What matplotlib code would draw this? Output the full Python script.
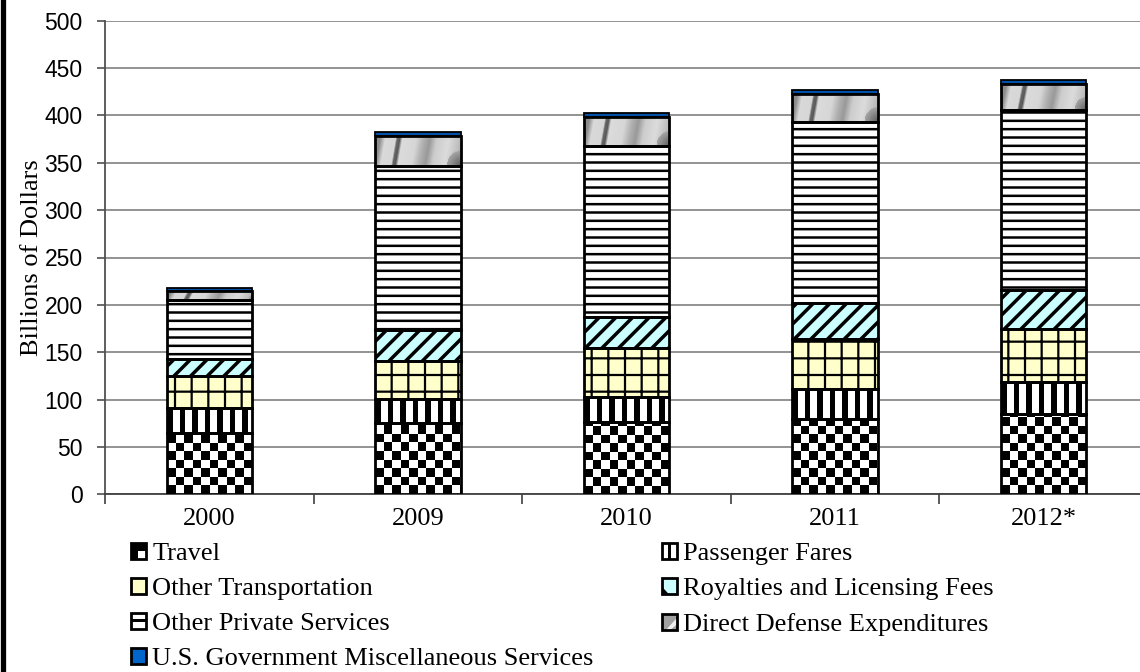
import numpy as np
import matplotlib
matplotlib.use('Agg')
import matplotlib.pyplot as plt
from matplotlib.patches import Rectangle, Polygon
from matplotlib.lines import Line2D

years = ['2000', '2009', '2010', '2011', '2012*']
travel = [65, 75, 76, 80, 85]
passenger_fares = [26, 26, 27, 31, 34]
other_transportation = [34, 40, 51, 53, 55]
royalties = [18, 32, 33, 38, 42]
other_private = [62, 174, 181, 191, 190]
defense = [10, 31, 30, 30, 27]
us_gov = [3, 4, 5, 4, 4]

labels = ['Travel', 'Passenger Fares', 'Other Transportation',
          'Royalties and Licensing Fees', 'Other Private Services',
          'Direct Defense Expenditures', 'U.S. Government Miscellaneous Services']
values = [travel, passenger_fares, other_transportation, royalties,
          other_private, defense, us_gov]
# face colour, hatch, hatch line width, special fill
styles = [('white', None, 1.0, 'checker'),
          ('white', None, 1.0, 'stripes'),
          ('#FFFFCC', '+', 1.6, None),
          ('#CCFFFF', '//', 2.5, None),
          ('white', '--', 1.8, None),
          ('#C8C8C8', None, 1.0, 'texture'),
          ('#0050A8', None, 1.0, None)]

SERIF = 'Liberation Serif'
SANS = 'Liberation Sans'

fig = plt.figure(figsize=(11.4, 6.72), dpi=100)
ax = fig.add_axes([105 / 1140, (672 - 494.3) / 672, 1035 / 1140, 473.6 / 672])
ax.set_xlim(-0.5, 4.462)
ax.set_ylim(0, 500)
ax.set_autoscale_on(False)

x = np.arange(len(years))
width = 0.41


def fill_checker(rect, cell=8.5):
    x0, y0, w, h = rect.get_x(), rect.get_y(), rect.get_width(), rect.get_height()
    (px0, py0), (px1, py1) = ax.transData.transform([(x0, y0), (x0 + w, y0 + h)])
    nx = int(np.ceil((px1 - px0) / cell)) + 1
    ny = int(np.ceil((py1 - py0) / cell)) + 1
    arr = np.add.outer(np.arange(ny), np.arange(nx)) % 2
    cx = w * cell / (px1 - px0)
    cy = h * cell / (py1 - py0)
    im = ax.imshow(arr, cmap='gray', vmin=0, vmax=1, origin='lower',
                   extent=(x0, x0 + nx * cx, y0, y0 + ny * cy),
                   interpolation='nearest', aspect='auto', zorder=3)
    im.set_clip_path(rect)


def fill_stripes(rect, period=12.5, black=5.5):
    x0, y0, w, h = rect.get_x(), rect.get_y(), rect.get_width(), rect.get_height()
    (px0, py0), (px1, py1) = ax.transData.transform([(x0, y0), (x0 + w, y0 + h)])
    nx = int(round(px1 - px0))
    arr = ((np.arange(nx) % period) >= black).astype(float)[None, :]
    im = ax.imshow(arr, cmap='gray', vmin=0, vmax=1, origin='lower',
                   extent=(x0, x0 + w, y0, y0 + h),
                   interpolation='nearest', aspect='auto', zorder=3)
    im.set_clip_path(rect)


def fill_texture(rect):
    x0, y0, w, h = rect.get_x(), rect.get_y(), rect.get_width(), rect.get_height()
    (px0, py0), (px1, py1) = ax.transData.transform([(x0, y0), (x0 + w, y0 + h)])
    nx, ny = int(round(px1 - px0)), max(int(round(py1 - py0)), 2)
    xx, yy = np.meshgrid(np.arange(nx) / nx, np.arange(ny) / ny)
    xs = xx - 0.06 * yy
    xp = [0, .06, .18, .2, .23, .26, .42, .5, .58, .66, .8, .92, 1.0]
    gp = [.55, .85, .84, .4, .35, .86, .84, .7, .6, .8, .86, .75, .65]
    arr = np.interp(xs, xp, gp)
    r = np.hypot((xx - 1.0) * nx, yy * ny)
    arr = np.where(r < 0.5 * ny, 0.35 + 0.3 * r / (0.5 * ny), arr)
    im = ax.imshow(arr, cmap='gray', vmin=0, vmax=1, origin='lower',
                   extent=(x0, x0 + w, y0, y0 + h),
                   interpolation='bilinear', aspect='auto', zorder=3)
    im.set_clip_path(rect)


bottom = np.zeros(len(years))
for i, (vals, (face, hatch, hlw, special)) in enumerate(zip(values, styles)):
    with plt.rc_context({'hatch.linewidth': hlw, 'hatch.color': 'black'}):
        bars = ax.bar(x, vals, width, bottom=bottom, color=face, edgecolor='black',
                      linewidth=0, hatch=hatch, zorder=2)
    for b in bars:
        if hatch is not None and hasattr(b, 'set_hatch_linewidth'):
            b.set_hatch_linewidth(hlw)
        if special == 'checker':
            fill_checker(b)
        elif special == 'stripes':
            fill_stripes(b)
        elif special == 'texture':
            fill_texture(b)
    last = i == len(values) - 1
    ax.bar(x, vals, width, bottom=bottom, fill=False, edgecolor='black',
           linewidth=1.3 if last else 2.0, zorder=4 if not last else 3.5)
    bottom += np.array(vals)

ax.set_yticks(np.arange(0, 501, 50))
ax.yaxis.grid(True, color='#808080', linewidth=1.2)
ax.set_axisbelow(True)
for s in ['top', 'right']:
    ax.spines[s].set_visible(False)
ax.spines['left'].set_color('#505050')
ax.spines['bottom'].set_color('#404040')
ax.spines['left'].set_linewidth(1.3)
ax.spines['bottom'].set_linewidth(1.3)

ax.set_xticks(x, years, fontfamily=SERIF, fontsize=19)
ax.set_xticks(np.arange(len(years)) - 0.5, minor=True)
ax.tick_params(axis='x', which='major', length=0, pad=10)
ax.tick_params(axis='x', which='minor', length=7, color='#404040', width=1.2)
ax.tick_params(axis='y', length=6, color='#505050', width=1.2, pad=10,
               labelsize=16.5)
for t in ax.get_yticklabels():
    t.set_fontfamily(SANS)
ax.set_ylabel('Billions of Dollars', fontfamily=SERIF, fontsize=19, labelpad=1)

# left border of the original picture
fig.add_artist(Line2D([0.0025, 0.0025], [0, 1], transform=fig.transFigure,
                      color='black', linewidth=3.8))


class Swatch:
    def __init__(self, kind, face):
        self.kind = kind
        self.face = face

    def legend_artist(self, legend, orig_handle, fontsize, handlebox):
        x0, y0 = -handlebox.xdescent, -handlebox.ydescent
        w, h = handlebox.width, handlebox.height
        tr = handlebox.get_transform()
        base = Rectangle((x0, y0), w, h, facecolor=self.face, linewidth=0,
                         transform=tr)
        handlebox.add_artist(base)
        extra = []
        if self.kind == 'checker':
            extra.append(Rectangle((x0 + w / 2, y0), w / 2, h / 2, facecolor='white',
                                   linewidth=0, transform=tr))
        elif self.kind == 'stripes':
            extra.append(Rectangle((x0 + w * 0.38, y0), w * 0.24, h,
                                   facecolor='black', linewidth=0, transform=tr))
        elif self.kind == 'diag':
            extra.append(Polygon([(x0, y0), (x0 + w * 0.45, y0), (x0, y0 + h * 0.45)],
                                 facecolor='black', linewidth=0, transform=tr))
        elif self.kind == 'hlines':
            extra.append(Rectangle((x0, y0 + h * 0.4), w, h * 0.2,
                                   facecolor='black', linewidth=0, transform=tr))
        elif self.kind == 'texture':
            extra.append(Polygon([(x0 + w * 0.3, y0), (x0 + w, y0 + h * 0.7),
                                  (x0 + w, y0 + h * 0.3), (x0 + w * 0.6, y0)],
                                 facecolor='#F0F0F0', linewidth=0, transform=tr))
        for a in extra:
            handlebox.add_artist(a)
        handlebox.add_artist(Rectangle((x0, y0), w, h, fill=False, edgecolor='black',
                                       linewidth=2.0, transform=tr))
        return base


kinds = ['checker', 'stripes', 'plain', 'diag', 'hlines', 'texture', 'plain']
faces = ['black', 'white', '#FFFFCC', '#CCFFFF', 'white', '#A0A0A0', '#0066CC']
proxies = [Rectangle((0, 0), 1, 1) for _ in labels]
hmap = {p: Swatch(k, f) for p, k, f in zip(proxies, kinds, faces)}

leg_kw = dict(loc='upper left', bbox_transform=fig.transFigure, frameon=False,
              borderpad=0, borderaxespad=0, handlelength=0.55, handleheight=0.55,
              handletextpad=0.25, labelspacing=0.48, handler_map=hmap,
              prop={'family': SERIF, 'size': 19})
left_idx = [0, 2, 4, 6]
right_idx = [1, 3, 5]
fig.legend([proxies[i] for i in left_idx], [labels[i] for i in left_idx],
           bbox_to_anchor=(131 / 1140, (672 - 543) / 672), **leg_kw)
fig.legend([proxies[i] for i in right_idx], [labels[i] for i in right_idx],
           bbox_to_anchor=(662 / 1140, (672 - 543) / 672), **leg_kw)

fig.savefig('out.png', dpi=100)
